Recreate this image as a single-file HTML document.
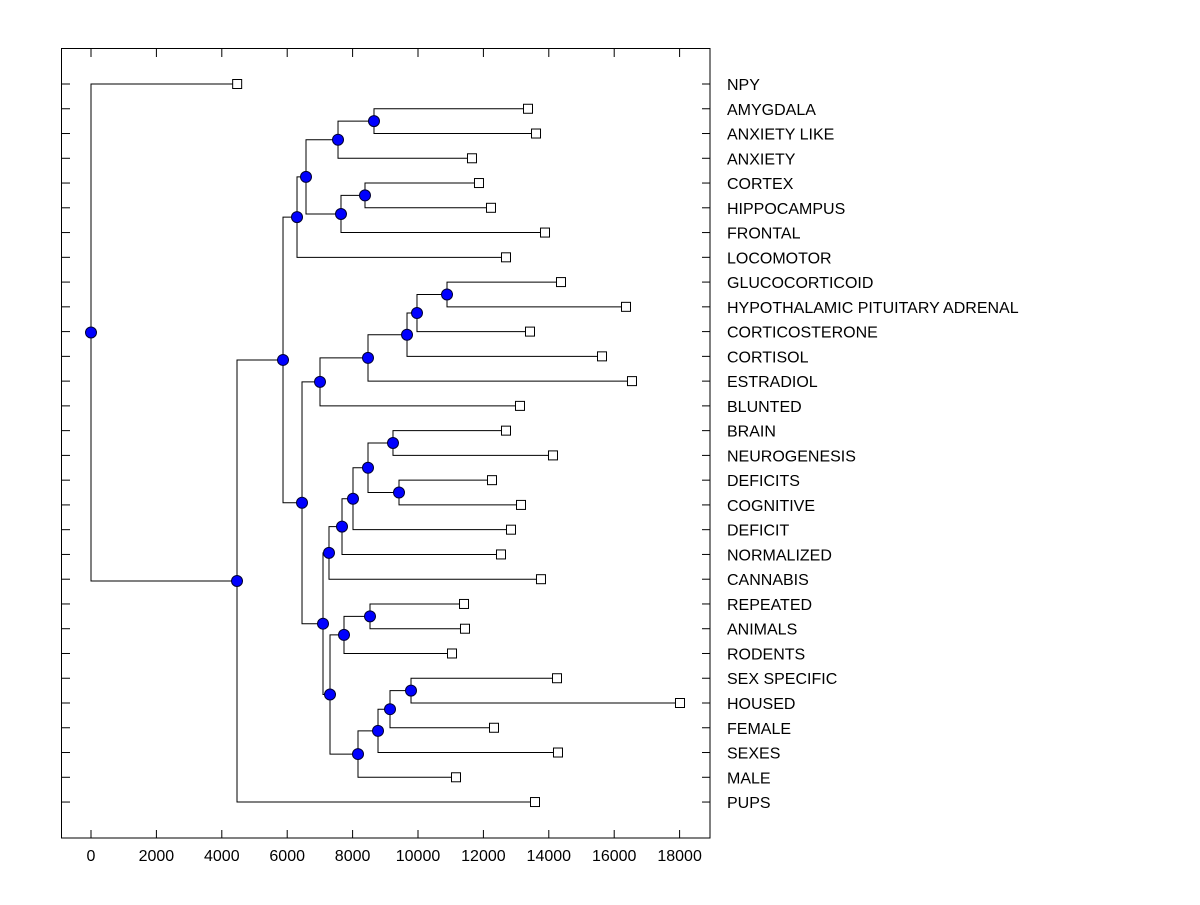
<!DOCTYPE html>
<html><head><meta charset="utf-8"><style>
body{margin:0;background:#fff}
svg text{font-family:"Liberation Sans",Arial,sans-serif;font-size:16px;fill:#000}
</style></head><body>
<svg id="chart" width="1200" height="900" xmlns="http://www.w3.org/2000/svg">
<rect x="61.5" y="48.5" width="648.5" height="789.5" fill="none" stroke="#000" stroke-width="1"/>
<g id="axes"></g><g id="links"></g><g id="marks"></g><g id="labels"></g>
</svg>
<script>
const labels=["NPY","AMYGDALA","ANXIETY LIKE","ANXIETY","CORTEX","HIPPOCAMPUS","FRONTAL","LOCOMOTOR","GLUCOCORTICOID","HYPOTHALAMIC PITUITARY ADRENAL","CORTICOSTERONE","CORTISOL","ESTRADIOL","BLUNTED","BRAIN","NEUROGENESIS","DEFICITS","COGNITIVE","DEFICIT","NORMALIZED","CANNABIS","REPEATED","ANIMALS","RODENTS","SEX SPECIFIC","HOUSED","FEMALE","SEXES","MALE","PUPS"];
const leafValues=[4470,13364,13609,11651,11865,12232,13884,12691,14373,16361,13425,15627,16544,13119,12691,14128,12263,13150,12844,12538,13761,11407,11437,11040,14251,18012,12324,14281,11162,13578];
// merges: [childA, childB, height]; leaves are 0..29, merge k is 30+k
const mergeChildA=[1,30,4,32,31,34,8,36,37,38,39,14,16,41,43,44,45,21,47,24,49,50,51,48,46,40,35,56,0];
const mergeChildB=[2,3,5,6,33,7,9,10,11,12,13,15,17,42,18,19,20,22,23,25,26,27,28,52,53,54,55,29,57];
const mergeHeights=[8654,7554,8379,7645,6575,6300,10887,9969,9664,8471,7003,9235,9419,8471,8012,7676,7278,8532,7737,9786,9144,8777,8165,7309,7095,6453,5872,4465,0];
const xTicks=[0,2000,4000,6000,8000,10000,12000,14000,16000,18000];

const NS="http://www.w3.org/2000/svg";
const sx=v=>91+v*0.0327;
const rowY=i=>84+i*24.76;
function mk(tag,attrs,parent){const e=document.createElementNS(NS,tag);for(const k in attrs)e.setAttribute(k,attrs[k]);document.getElementById(parent).appendChild(e);return e;}
const axes="axes";
xTicks.forEach(t=>{
  const x=sx(t);
  let a=mk("line",{x1:x,x2:x,y1:838,y2:830,stroke:"#000"},axes);
  
  
  let b=mk("line",{x1:x,x2:x,y1:49,y2:57,stroke:"#000"},axes);
  
  
  let tx=mk("text",{x:x,y:861,"text-anchor":"middle"},axes);tx.textContent=t;
  
  
});
labels.forEach((l,i)=>{
  const y=rowY(i);
  let a=mk("line",{x1:62,x2:70,y1:y,y2:y,stroke:"#000"},axes);
  
  
  let b=mk("line",{x1:702,x2:710,y1:y,y2:y,stroke:"#000"},axes);
  
  
  let t=mk("text",{x:727,y:y+6},"labels");t.textContent=l;
  
  
});
const nx=[],ny=[];
leafValues.forEach((v,i)=>{nx[i]=sx(v);ny[i]=rowY(i);});
mergeHeights.forEach((h,k)=>{
  const a=mergeChildA[k],b=mergeChildB[k],id=30+k,x=sx(h);
  nx[id]=x;ny[id]=(ny[a]+ny[b])/2;
  let p=mk("path",{d:`M${nx[a]} ${ny[a]}H${x}V${ny[b]}H${nx[b]}`,fill:"none",stroke:"#000","stroke-width":1},"links");
  
  
});
leafValues.forEach((v,i)=>{
  let r=mk("rect",{x:nx[i]-4.5,y:ny[i]-4.5,width:9,height:9,fill:"#fff",stroke:"#000"},"marks");
  
  
});
mergeHeights.forEach((h,k)=>{
  let c=mk("circle",{cx:nx[30+k],cy:ny[30+k],r:5.5,fill:"#0000ff",stroke:"#000033","stroke-width":1},"marks");
  
  
});
</script>
</body></html>
